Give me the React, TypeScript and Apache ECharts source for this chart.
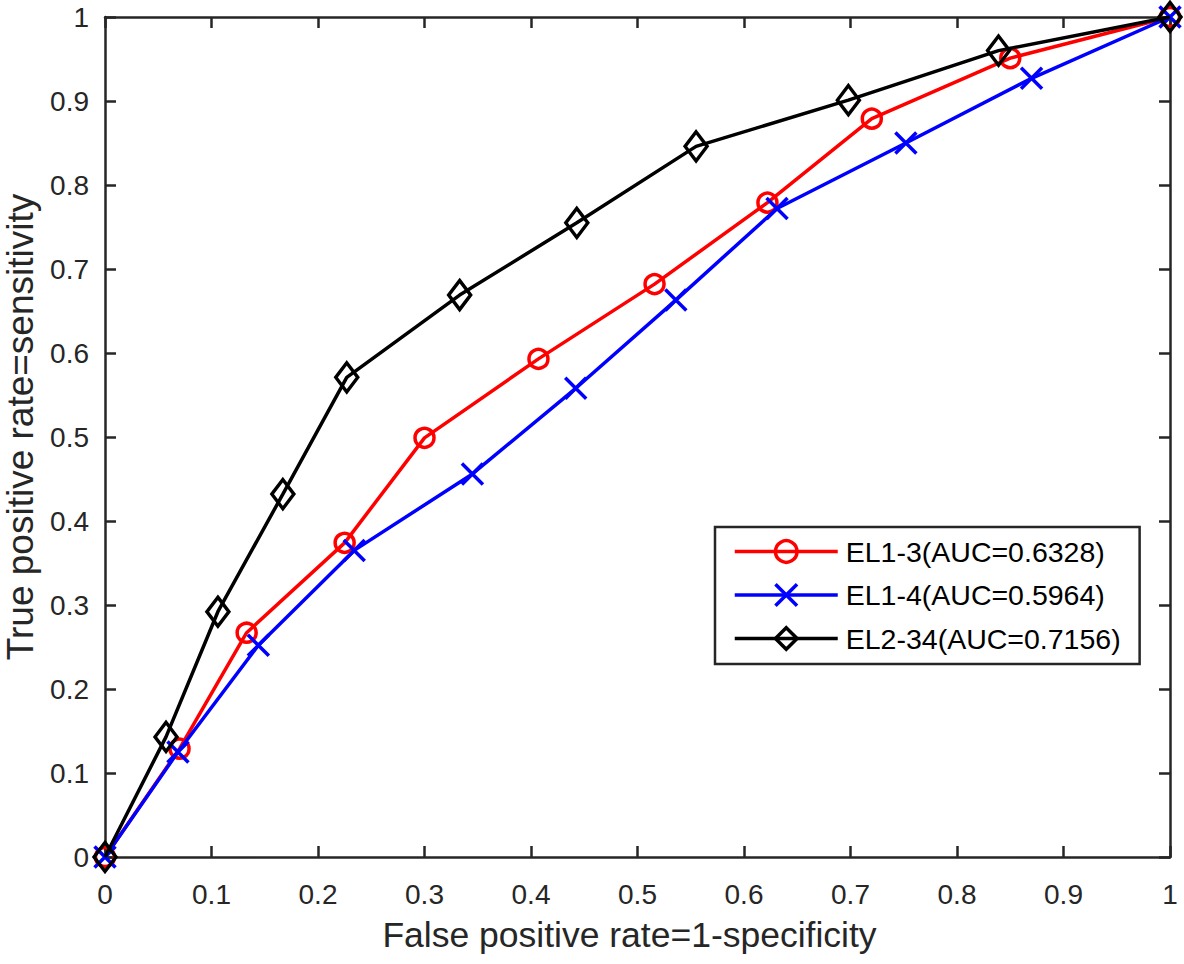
import React, { useEffect, useRef } from "react";
import * as echarts from "echarts";

const seriesNames = ["EL1-3(AUC=0.6328)", "EL1-4(AUC=0.5964)", "EL2-34(AUC=0.7156)"];
const seriesColors = ["#ff0000", "#0000ff", "#000000"];

const el13X = [0, 0.070, 0.133, 0.225, 0.300, 0.407, 0.516, 0.622, 0.720, 0.850, 1];
const el13Y = [0, 0.129, 0.267, 0.374, 0.499, 0.593, 0.682, 0.779, 0.879, 0.951, 1];

const el14X = [0, 0.0685, 0.144, 0.234, 0.345, 0.442, 0.536, 0.631, 0.752, 0.870, 1];
const el14Y = [0, 0.125, 0.252, 0.365, 0.456, 0.558, 0.663, 0.772, 0.850, 0.927, 1];

const el234X = [0, 0.0573, 0.106, 0.167, 0.227, 0.333, 0.443, 0.555, 0.698, 0.839, 1];
const el234Y = [0, 0.143, 0.292, 0.432, 0.571, 0.669, 0.755, 0.846, 0.901, 0.960, 1];

const xAxisTitle = "False positive rate=1-specificity";
const yAxisTitle = "True positive rate=sensitivity";

const FONT = "'Liberation Sans', Arial, Helvetica, sans-serif";
const AXIS_COLOR = "#262626";
const LINE_W = 3.5;

const zip = (xs: number[], ys: number[]) => xs.map((x, i) => [x, ys[i]]);

const X_MARK = "path://M0,0L20,20M20,0L0,20";

export default function App() {
  const ref = useRef<HTMLDivElement>(null);

  useEffect(() => {
    if (!ref.current) return;
    const chart = echarts.init(ref.current, undefined, { renderer: "svg" });

    const axisCommon = {
      type: "value" as const,
      min: 0,
      max: 1,
      interval: 0.1,
      axisLine: { show: true, onZero: false, lineStyle: { color: AXIS_COLOR, width: 2.5 } },
      axisTick: { show: true, inside: true, length: 11, lineStyle: { color: AXIS_COLOR, width: 2.5 } },
      splitLine: { show: false },
    };

    const option: any = {
      animation: false,
      backgroundColor: "#ffffff",
      grid: { left: 105, right: 14, top: 17, bottom: 107, containLabel: false, outerBoundsMode: "none" },
      xAxis: [
        {
          ...axisCommon,
          position: "bottom",
          name: xAxisTitle,
          nameLocation: "middle",
          nameGap: 60,
          nameTextStyle: { fontFamily: FONT, fontSize: 35.5, color: AXIS_COLOR, padding: [0, 16, 0, 0] },
          axisLabel: { fontFamily: FONT, fontSize: 28, color: AXIS_COLOR, margin: 23 },
        },
        {
          ...axisCommon,
          position: "top",
          axisLabel: { show: false },
        },
      ],
      yAxis: [
        {
          ...axisCommon,
          position: "left",
          name: yAxisTitle,
          nameLocation: "middle",
          nameGap: 66,
          nameTextStyle: { fontFamily: FONT, fontSize: 37, color: AXIS_COLOR, padding: [0, 0, 0, 20] },
          axisLabel: { fontFamily: FONT, fontSize: 28, color: AXIS_COLOR, margin: 16 },
        },
        {
          ...axisCommon,
          position: "right",
          axisLabel: { show: false },
        },
      ],
      legend: {
        show: true,
        orient: "vertical",
        left: 715,
        top: 527,
        data: seriesNames,
        backgroundColor: "#ffffff",
        borderColor: AXIS_COLOR,
        borderWidth: 2.5,
        borderRadius: 0,
        padding: [10, 19, 11, 18],
        itemWidth: 103,
        itemHeight: 27,
        itemGap: 14.5,
        itemStyle: { borderWidth: LINE_W },
        lineStyle: { width: LINE_W },
        textStyle: { fontFamily: FONT, fontSize: 28.5, color: "#000", lineHeight: 27, padding: [0, 0, 0, 3] },
      },
      series: [
        {
          name: seriesNames[0],
          type: "line",
          data: zip(el13X, el13Y),
          symbol: "circle",
          symbolSize: 19,
          lineStyle: { color: seriesColors[0], width: LINE_W },
          itemStyle: { color: "rgba(0,0,0,0)", borderColor: seriesColors[0], borderWidth: LINE_W },
          emphasis: { disabled: true },
          z: 2,
        },
        {
          name: seriesNames[1],
          type: "line",
          data: zip(el14X, el14Y),
          symbol: X_MARK,
          symbolSize: 21,
          lineStyle: { color: seriesColors[1], width: LINE_W },
          itemStyle: { color: "rgba(0,0,0,0)", borderColor: seriesColors[1], borderWidth: LINE_W },
          emphasis: { disabled: true },
          z: 3,
        },
        {
          name: seriesNames[2],
          type: "line",
          data: zip(el234X, el234Y),
          symbol: "diamond",
          symbolSize: [22, 29],
          lineStyle: { color: seriesColors[2], width: LINE_W },
          itemStyle: { color: "rgba(0,0,0,0)", borderColor: seriesColors[2], borderWidth: LINE_W },
          emphasis: { disabled: true },
          z: 4,
        },
      ],
    };

    chart.setOption(option);
    return () => chart.dispose();
  }, []);

  return (
    <div
      ref={ref}
      style={{ position: "absolute", left: 0, top: 0, width: 1184, height: 964, background: "#fff" }}
    />
  );
}
